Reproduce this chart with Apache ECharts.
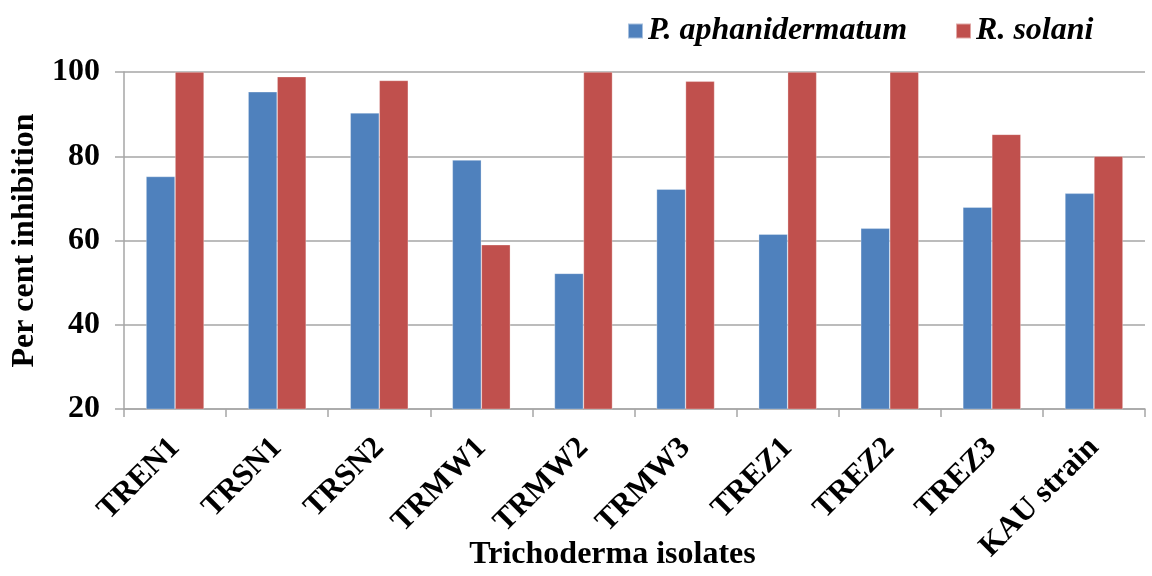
<!DOCTYPE html>
<html>
<head>
<meta charset="utf-8">
<script src="https://cdn.jsdelivr.net/npm/echarts@6/dist/echarts.min.js"></script>
<style>
  html, body { margin: 0; padding: 0; background: #fff; }
  #chart { width: 1152px; height: 576px; }
</style>
</head>
<body>
<div id="chart"></div>
<script>
// Trichoderma isolates and their per cent inhibition of two pathogens
const isolates = ['TREN1', 'TRSN1', 'TRSN2', 'TRMW1', 'TRMW2', 'TRMW3', 'TREZ1', 'TREZ2', 'TREZ3', 'KAU strain'];
const pythium = [75.2, 95.3, 90.3, 79.1, 52.2, 72.2, 61.5, 62.9, 67.9, 71.2];
const rhizoctonia = [100, 98.9, 98.0, 59.0, 100, 97.8, 100, 100, 85.2, 80.0];
const seriesNames = ['P. aphanidermatum', 'R. solani'];
const yTicks = [20, 40, 60, 80, 100];

const font = 'Liberation Serif, Times New Roman, serif';
const gridColor = '#a6a6a6';

const chart = echarts.init(document.getElementById('chart'));
chart.setOption({
  animation: false,
  color: ['#4F81BD', '#C0504D'],
  textStyle: { fontFamily: font },
  legend: {
    top: 10,
    left: 622,
    itemWidth: 15,
    itemHeight: 15,
    itemGap: 48,
    icon: 'rect',
    textStyle: { fontFamily: font, fontSize: 32, fontWeight: 'bold', fontStyle: 'italic', color: '#000' },
    data: seriesNames
  },
  grid: {
    left: 124, right: 7, top: 72, bottom: 167,
    containLabel: false,
    outerBoundsMode: 'none'
  },
  xAxis: {
    type: 'category',
    data: isolates,
    name: 'Trichoderma isolates',
    nameLocation: 'middle',
    nameGap: 130,
    nameMoveOverlap: false,
    nameTextStyle: {
      fontFamily: font, fontSize: 32, fontWeight: 'bold', color: '#000',
      padding: [0, 44, 0, 0]
    },
    axisLine: { lineStyle: { color: gridColor, width: 1.5 } },
    axisTick: { show: true, length: 8, lineStyle: { color: gridColor, width: 1.5 } },
    axisLabel: {
      rotate: 45,
      margin: 34,
      interval: 0,
      fontFamily: font,
      fontSize: 31,
      fontWeight: 'bold',
      color: '#000'
    }
  },
  yAxis: {
    type: 'value',
    min: 20,
    max: 100,
    interval: 20,
    name: 'Per cent inhibition',
    nameLocation: 'middle',
    nameGap: 83,
    nameMoveOverlap: false,
    nameTextStyle: { fontFamily: font, fontSize: 32, fontWeight: 'bold', color: '#000' },
    axisLine: { show: true, lineStyle: { color: gridColor, width: 1.5 } },
    axisTick: { show: true, length: 9, lineStyle: { color: gridColor, width: 1.5 } },
    axisLabel: {
      margin: 24,
      fontFamily: font,
      fontSize: 32,
      fontWeight: 'bold',
      color: '#000',
      formatter: v => (yTicks.includes(v) ? String(v) : '')
    },
    splitLine: { lineStyle: { color: gridColor, width: 1.5 } }
  },
  series: [
    {
      name: seriesNames[0],
      type: 'bar',
      data: pythium,
      barWidth: 29,
      barGap: '0%',
      itemStyle: { borderColor: 'rgba(255,255,255,0.5)', borderWidth: 0.6 }
    },
    {
      name: seriesNames[1],
      type: 'bar',
      data: rhizoctonia,
      barWidth: 29,
      barGap: '0%',
      itemStyle: { borderColor: 'rgba(255,255,255,0.5)', borderWidth: 0.6 }
    }
  ]
});
</script>
</body>
</html>
